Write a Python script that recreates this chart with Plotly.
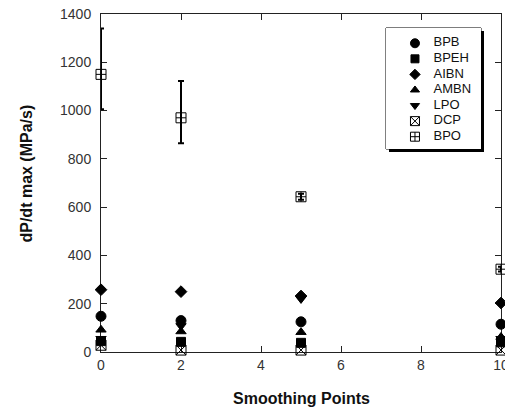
import plotly.graph_objects as go

# Smoothing points applied to the pressure trace
smoothing = [0, 2, 5, 10]

# Maximum pressure-rise rate, dP/dt max (MPa/s), per initiator
bpb = [148, 130, 125, 115]
bpeh = [45, 42, 38, 40]
aibn = [258, 250, 232, 203]
ambn = [92, 85, 82, 62]
lpo = [55, 108, 220, 55]
dcp = [28, 8, 8, 8]
bpo = [1150, 970, 643, 343]
bpo_err_plus = [190, 152, 12, 10]
bpo_err_minus = [145, 105, 12, 10]

names = ["BPB", "BPEH", "AIBN", "AMBN", "LPO", "DCP", "BPO"]
series = [bpb, bpeh, aibn, ambn, lpo, dcp, bpo]
symbols = ["circle", "square", "diamond", "triangle-up", "triangle-down",
           "square-x-open", "square-cross-open"]
sizes = [10, 9, 9, 9, 9, 10, 10]

FONT = "Liberation Sans, Arial, sans-serif"
INK = "#000000"

fig = go.Figure()

for name, vals, sym, sz in zip(names, series, symbols, sizes):
    err = None
    if name == "BPO":
        err = dict(type="data", symmetric=False, array=bpo_err_plus,
                   arrayminus=bpo_err_minus, visible=True,
                   color=INK, thickness=2, width=3)
    fig.add_trace(go.Scatter(
        x=smoothing, y=vals, mode="markers", name=name,
        marker=dict(symbol=sym, size=sz, color=INK,
                    line=dict(color=INK, width=1)),
        error_y=err, cliponaxis=False, showlegend=False,
    ))

# Legend drawn on its own small axis pair inside a framed box
rows = list(range(1, len(names) + 1))
for name, sym, sz, r in zip(names, symbols, sizes, rows):
    fig.add_trace(go.Scatter(
        x=[0.305], y=[r], mode="markers", xaxis="x2", yaxis="y2",
        marker=dict(symbol=sym, size=sz - 1, color=INK,
                    line=dict(color=INK, width=1)),
        showlegend=False, hoverinfo="skip", cliponaxis=False,
    ))
fig.add_trace(go.Scatter(
    x=[0.50] * len(names), y=rows, mode="text", text=names,
    textposition="middle right", xaxis="x2", yaxis="y2",
    textfont=dict(family=FONT, size=13, color="#111"),
    showlegend=False, hoverinfo="skip", cliponaxis=False,
))

# Legend frame with drop shadow (paper coordinates)
bx0, bx1, by0, by1 = 0.7125, 0.95, 0.6006, 0.9586
dx, dy = 0.0075, 0.0089
fig.add_shape(type="rect", xref="paper", yref="paper",
              x0=bx0 + dx, x1=bx1 + dx, y0=by0 - dy, y1=by1 - dy,
              fillcolor="#000", line=dict(width=0), layer="below")
fig.add_shape(type="rect", xref="paper", yref="paper",
              x0=bx0, x1=bx1, y0=by0, y1=by1,
              fillcolor="#fff", line=dict(color="#000", width=1), layer="below")

axis_common = dict(
    showgrid=False, zeroline=False, showline=True, linecolor="#222",
    linewidth=1, mirror="ticks", ticks="inside", ticklen=6,
    tickcolor="#222", tickwidth=1, layer="below traces",
    ticklabeloverflow="allow", automargin=False,
    tickfont=dict(family=FONT, size=14, color="#333"),
)

fig.update_layout(
    width=505, height=409,
    margin=dict(l=101, r=4, t=14, b=57),
    paper_bgcolor="white", plot_bgcolor="white",
    showlegend=False,
    xaxis=dict(range=[0, 10], dtick=2, tick0=0, **axis_common),
    yaxis=dict(range=[0, 1400], dtick=200, tick0=0, ticklabelstandoff=6,
               **axis_common),
    xaxis2=dict(domain=[bx0, bx1], range=[0, 1], visible=False,
                anchor="y2", fixedrange=True),
    yaxis2=dict(domain=[by0, by1], range=[7.79, 0.02], visible=False,
                anchor="x2", fixedrange=True),
    annotations=[
        dict(text="<b>Smoothing Points</b>", xref="paper", yref="paper",
             x=0.5, y=-0.139, showarrow=False, xanchor="center",
             yanchor="middle", font=dict(family=FONT, size=16, color="#111")),
        dict(text="<b>dP/dt max (MPa/s)</b>", xref="paper", yref="paper",
             x=-0.185, y=0.528, showarrow=False, textangle=-90,
             xanchor="center", yanchor="middle",
             font=dict(family=FONT, size=16, color="#111")),
    ],
)

fig.write_html("out.html")
